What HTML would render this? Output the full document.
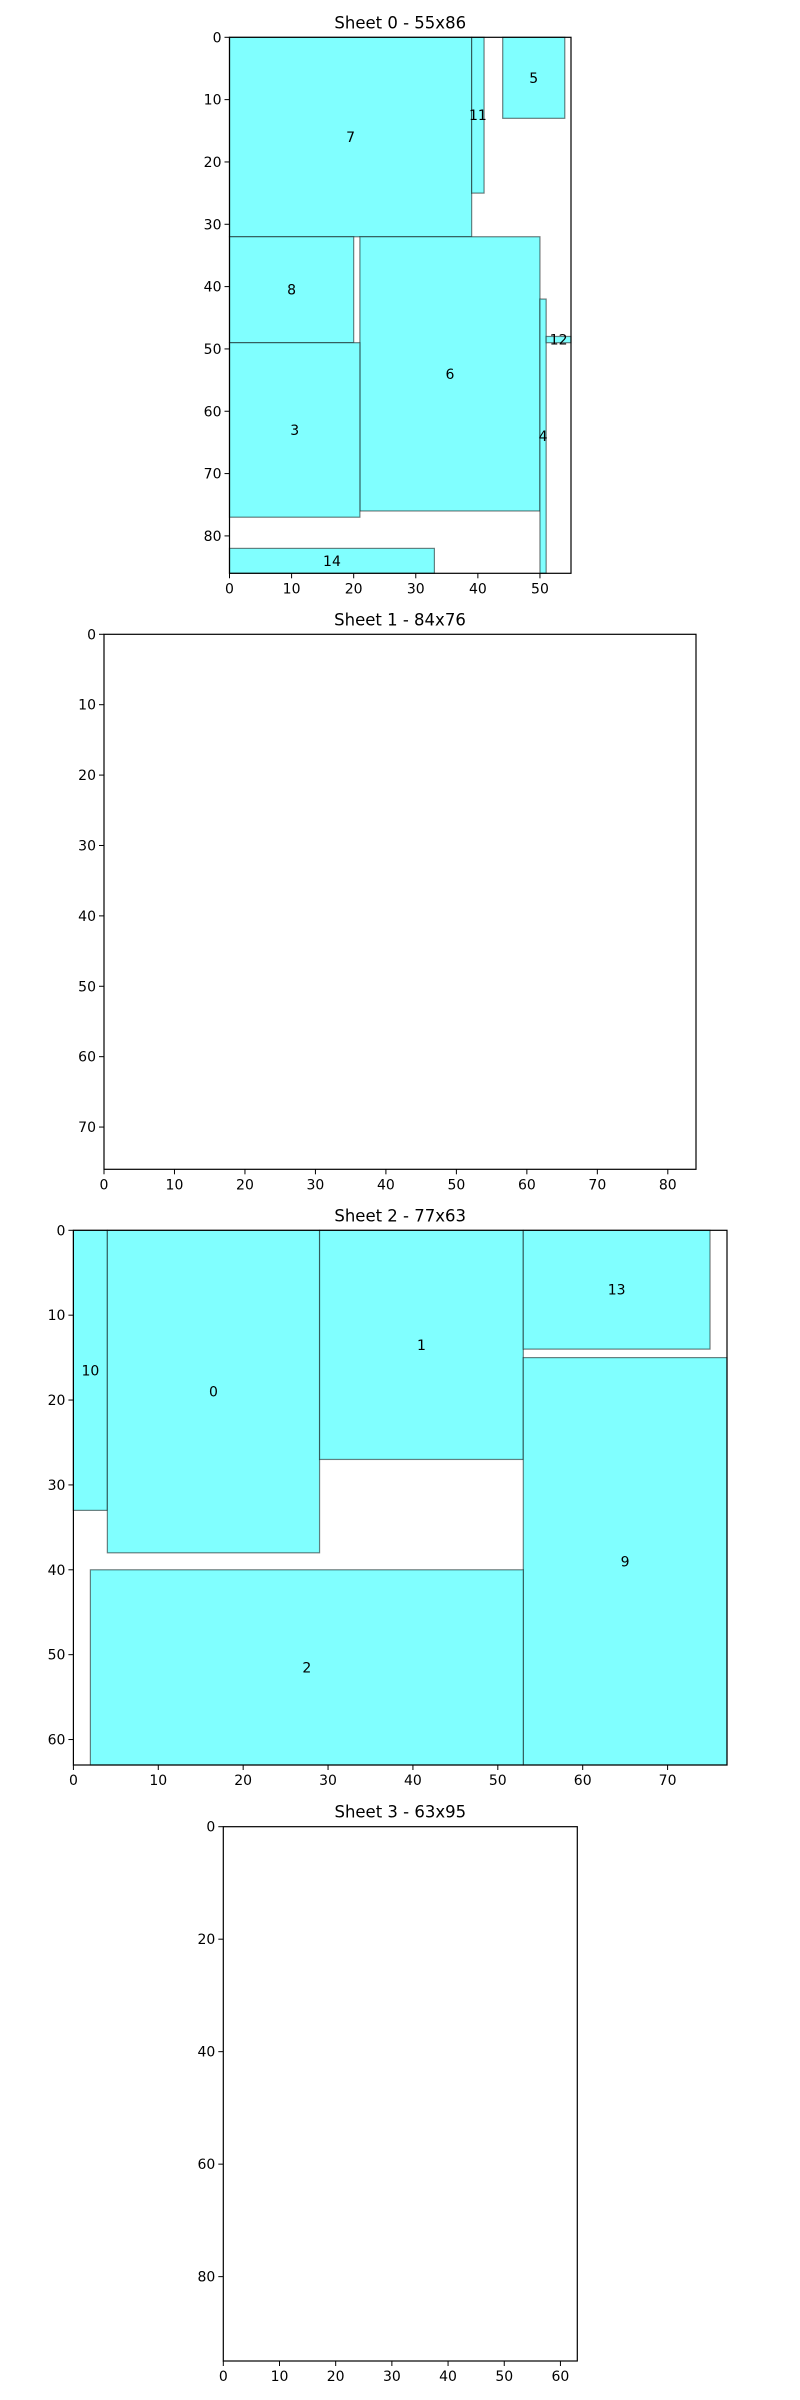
<!DOCTYPE html>
<html><head><meta charset="utf-8"><style>
html,body{margin:0;padding:0;background:#fff;}
svg{display:block;font-family:"DejaVu Sans","Liberation Sans",sans-serif;}
</style></head><body>
<svg id="fig" width="800" height="2400" viewBox="0 0 800 2400"></svg>
<script>
// Sheet data: [id, x, y, w, h]
const sheetTitles = ["Sheet 0 - 55x86", "Sheet 1 - 84x76", "Sheet 2 - 77x63", "Sheet 3 - 63x95"];
const sheetWidths = [55, 84, 77, 63];
const sheetHeights = [86, 76, 63, 95];
const sheet0Parts = [[7,0,0,39,32],[11,39,0,2,25],[5,44,0,10,13],[8,0,32,20,17],[6,21,32,29,44],[3,0,49,21,28],[4,50,42,1,44],[12,51,48,4,1],[14,0,82,33,4]];
const sheet1Parts = [];
const sheet2Parts = [[10,0,0,4,33],[0,4,0,25,38],[1,29,0,24,27],[13,53,0,22,14],[9,53,15,24,48],[2,2,40,51,23]];
const sheet3Parts = [];
const xTickSteps = [10, 10, 10, 10];
const yTickSteps = [10, 10, 10, 20];

const allParts = [sheet0Parts, sheet1Parts, sheet2Parts, sheet3Parts];
// axes boxes in pixels (layout, not data)
const boxes = [
  {l:229.5, r:571, t:37.3, b:573.3},
  {l:104, r:696, t:634.3, b:1169.3},
  {l:73.4, r:727, t:1230.3, b:1765},
  {l:223.3, r:577.3, t:1826.7, b:2361}
];
const NS = "http://www.w3.org/2000/svg";
const fig = document.getElementById('fig');
function mk(tag, attrs, parent){
  const e = document.createElementNS(NS, tag);
  for (const k in attrs) e.setAttribute(k, attrs[k]);
  parent.appendChild(e);
  return e;
}
for (let s = 0; s < 4; s++){
  const bx = boxes[s], W = sheetWidths[s], H = sheetHeights[s];
  const sx = v => bx.l + (bx.r - bx.l) * v / W;
  const sy = v => bx.t + (bx.b - bx.t) * v / H;
  const g = mk('g', {}, fig);
  
  
  const title = mk('text', {x:(bx.l+bx.r)/2, y:bx.t-9, 'text-anchor':'middle', 'font-size':'16.5', fill:'#000'}, g);
  title.textContent = sheetTitles[s];
  
  
  for (const p of allParts[s]){
    const [id, x, y, w, h] = p;
    const r = mk('rect', {x:sx(x), y:sy(y), width:sx(x+w)-sx(x), height:sy(y+h)-sy(y), fill:'#80ffff', stroke:'rgba(0,0,0,0.5)', 'stroke-width':'1.2'}, g);
    
    
    const t = mk('text', {x:sx(x+w/2), y:sy(y+h/2)+5, 'text-anchor':'middle', 'font-size':'14', fill:'#000'}, g);
    t.textContent = String(id);
    
    
  }
  const frame = mk('rect', {x:bx.l, y:bx.t, width:bx.r-bx.l, height:bx.b-bx.t, fill:'none', stroke:'#000', 'stroke-width':'1.2'}, g);
  
  
  for (let v = 0; v <= W; v += xTickSteps[s]){
    mk('line', {x1:sx(v), x2:sx(v), y1:bx.b, y2:bx.b+5, stroke:'#000', 'stroke-width':'1'}, g);
    const t = mk('text', {x:sx(v), y:bx.b+20, 'text-anchor':'middle', 'font-size':'14', fill:'#000'}, g);
    t.textContent = String(v);
    
    
  }
  for (let v = 0; v <= H; v += yTickSteps[s]){
    mk('line', {x1:bx.l-5, x2:bx.l, y1:sy(v), y2:sy(v), stroke:'#000', 'stroke-width':'1'}, g);
    const t = mk('text', {x:bx.l-8, y:sy(v)+5, 'text-anchor':'end', 'font-size':'14', fill:'#000'}, g);
    t.textContent = String(v);
    
    
  }
}
</script>
</body></html>
